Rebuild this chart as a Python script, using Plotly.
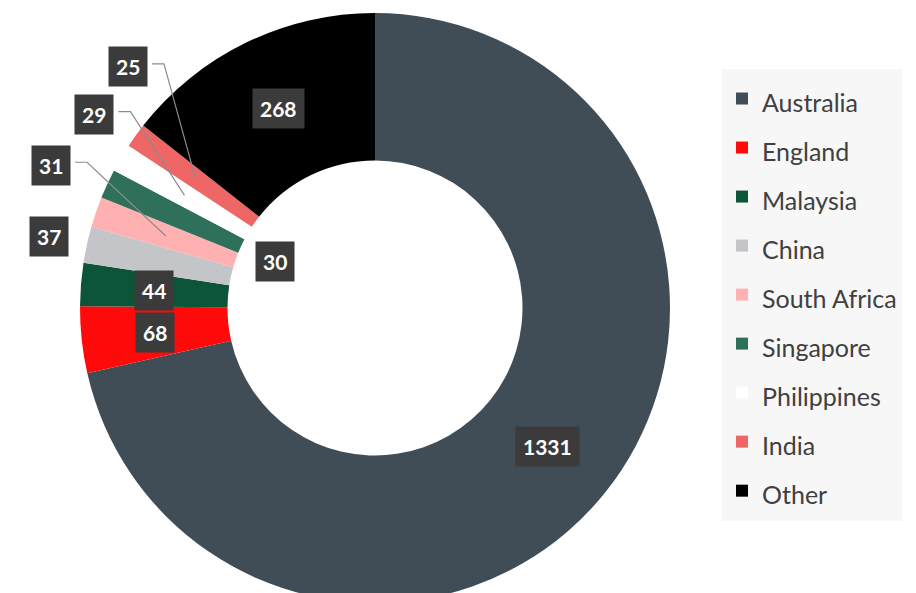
import math
import plotly.graph_objects as go

countries = ["Australia", "England", "Malaysia", "China", "South Africa",
             "Singapore", "Philippines", "India", "Other"]
students = [1331, 68, 44, 37, 31, 30, 29, 25, 268]
colors = ["#414D56", "#FF0A0A", "#0D5539", "#C3C5C8", "#FFB0B0",
          "#2F705A", "#FFFFFF", "#EE6666", "#000000"]

# where each value label goes: on the ring, inside the hole, or outside with a leader line
label_place = ["ring", "ring", "ring", "out", "out", "hole", "out", "out", "ring"]
label_shift = [0, 0, 0, 0, 4.8, 0, 4.0, 8.5, 0]        # degrees, spreads the outside labels
label_reach = [1, 1, 1, 1.13, 1.2, 1, 1.155, 1.17, 1]  # extra distance for outside labels

W, H = 916, 610
dom_x = [80 / W, 670 / W]
dom_y = [7 / H, 597 / H]
hole = 0.5

fig = go.Figure(go.Pie(
    labels=[f"<span style='font-size:25px'>{c}</span>" for c in countries],
    values=students,
    sort=False,
    direction="clockwise",
    rotation=0,
    hole=hole,
    marker=dict(colors=colors, line=dict(width=0)),
    textinfo="none",
    domain=dict(x=dom_x, y=dom_y),
))

# pixel geometry of the pie, used to put the value boxes next to their slices
cx = (dom_x[0] + dom_x[1]) / 2 * W
cy = (1 - (dom_y[0] + dom_y[1]) / 2) * H
R = min((dom_x[1] - dom_x[0]) * W, (dom_y[1] - dom_y[0]) * H) / 2
r_ring = (hole * R + R) / 2
radius = {"ring": r_ring, "hole": 0.375 * R, "out": R}


def to_paper(px, py):
    return px / W, 1 - py / H


def polar(r, deg):
    t = math.radians(deg)
    return cx + r * math.sin(t), cy - r * math.cos(t)


total = sum(students)
cum = 0
for v, place, shift, reach in zip(students, label_place, label_shift, label_reach):
    mid = (cum + v / 2) / total * 360
    cum += v
    lx, ly = polar(radius[place] * reach, mid + shift)
    ax_, ay_ = to_paper(lx, ly)
    if place == "out" and shift > 0:
        tx, ty = polar(r_ring, mid)
        p0 = to_paper(lx + 24, ly - 3)
        p1 = to_paper(lx + 36, ly - 3)
        p2 = to_paper(tx, ty)
        fig.add_shape(
            type="path", xref="paper", yref="paper", layer="above",
            path=f"M {p0[0]} {p0[1]} L {p1[0]} {p1[1]} L {p2[0]} {p2[1]}",
            line=dict(color="#8C8C8C", width=1.2),
        )
    fig.add_annotation(
        x=ax_, y=ay_, xref="paper", yref="paper", showarrow=False,
        xanchor="center", yanchor="middle",
        text=f"<b>{v}</b>", font=dict(family="Lato", size=21, color="white"),
        bgcolor="#3B3B3B", borderpad=7,
    )

fig.update_layout(
    width=W, height=H,
    margin=dict(l=0, r=0, t=0, b=0),
    paper_bgcolor="white",
    showlegend=True,
    legend=dict(
        x=722 / W, y=1 - 69 / H, xanchor="left", yanchor="top",
        bgcolor="#F7F7F7", borderwidth=0,
        font=dict(family="Lato", size=35.4, color="#404040"),
    ),
)

fig.write_html("out.html", config={"displayModeBar": False},
               post_script="document.body.style.margin='0';document.body.style.overflow='hidden';")
